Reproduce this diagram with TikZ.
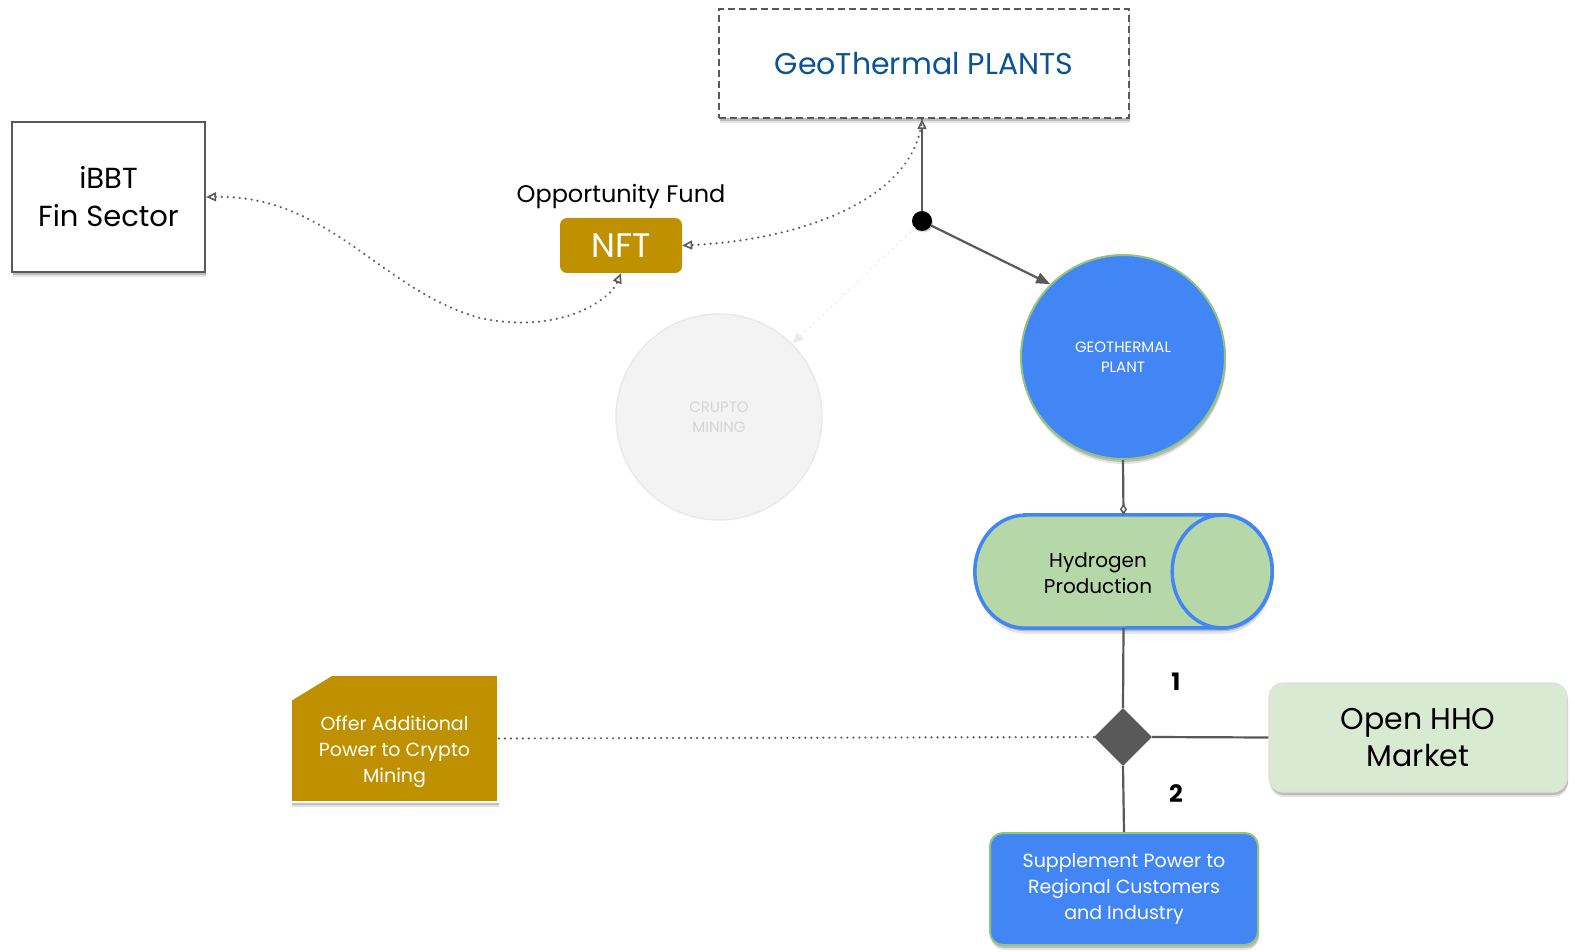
\documentclass[tikz,border=0pt]{standalone}
\usepackage{fontspec}
\setmainfont{Poppins}
\usetikzlibrary{arrows.meta,shapes.geometric,shadows,positioning}
\definecolor{goldc}{HTML}{BF9000}
\definecolor{blueg}{HTML}{4285F4}
\definecolor{greenb}{HTML}{93C47D}
\definecolor{hpfill}{HTML}{B6D7A8}
\definecolor{hhofill}{HTML}{D9EAD3}
\definecolor{titleblue}{HTML}{0B5394}
\definecolor{lgray}{HTML}{595959}
\definecolor{crfill}{HTML}{F3F3F3}
\definecolor{crline}{HTML}{EAEAEA}
\definecolor{crtext}{HTML}{D5D5D5}
\newcommand{\fs}[2]{\fontsize{#1}{#2}\selectfont}
\tikzset{
  shad/.style={drop shadow={shadow xshift=1pt,shadow yshift=-5pt,opacity=0.10,fill=black},
               drop shadow={shadow xshift=1pt,shadow yshift=-3pt,opacity=0.18,fill=black}},
  conn/.style={draw=lgray,line width=2.2pt},
  dotconn/.style={draw=lgray,line width=2.4pt,line cap=round,dash pattern=on 0.01pt off 6pt},
  ohead/.tip={Triangle[open,length=10pt,width=9pt,line width=1.6pt,line cap=butt]},
  txt/.style={align=center,inner sep=0pt}
}
\begin{document}
\begin{tikzpicture}[x=1pt,y=-1pt]
\useasboundingbox (0,0) rectangle (1575,952);

% GeoThermal PLANTS
\node[shad,draw=lgray,dash pattern=on 7pt off 4pt,line width=2.2pt,fill=white,minimum width=410,minimum height=109,inner sep=0pt,
  text=titleblue,font=\fs{30}{36}] (geo) at (924,63.5) {GeoThermal PLANTS};

% iBBT
\node[shad,draw=lgray,line width=2.2pt,fill=white,minimum width=193,minimum height=150,inner sep=0pt,
  align=center,font=\fs{29}{38}] (ibbt) at (108.5,197) {iBBT\\Fin Sector};

% NFT
\node[fill=goldc,rounded corners=7pt,minimum width=122,minimum height=55,inner sep=0pt,
  text=white,font=\fs{34}{40}] (nft) at (621,245.5) {NFT};
\node[txt,font=\fs{24}{28},anchor=south] (ofund) at (621,209) {Opportunity Fund};

% dot
\node[circle,fill=black,minimum size=20,inner sep=0pt,drop shadow={shadow xshift=1pt,shadow yshift=-1.5pt,opacity=0.3}] (dot) at (922,221) {};

% Geothermal plant circle
\node[shad,circle,fill=blueg,draw=greenb,line width=2pt,minimum size=204,inner sep=0pt,
  align=center,text=white,font=\fs{15}{20}] (gp) at (1123,357) {GEOTHERMAL\\PLANT};

% Crupto mining
\node[circle,fill=crfill,draw=crline,line width=1.5pt,minimum size=206,inner sep=0pt,
  align=center,text=crtext,font=\fs{15}{20}] (cm) at (719,417) {CRUPTO\\MINING};

% Hydrogen production cylinder
\node[minimum width=297,minimum height=113,inner sep=0pt] (hp) at (1123.5,571.5) {};
\fill[black,opacity=0.10] ([xshift=51pt,yshift=-6pt]hp.north west) -- ++(197,0)
  arc[start angle=-90,end angle=90,x radius=50,y radius=56.5] -- ++(-197,0)
  arc[start angle=90,end angle=270,x radius=50,y radius=56.5] -- cycle;
\fill[black,opacity=0.18] ([xshift=51pt,yshift=-3.5pt]hp.north west) -- ++(197,0)
  arc[start angle=-90,end angle=90,x radius=50,y radius=56.5] -- ++(-197,0)
  arc[start angle=90,end angle=270,x radius=50,y radius=56.5] -- cycle;
\draw[fill=hpfill,draw=blueg,line width=3.5pt] ([xshift=50pt]hp.north west) -- ([xshift=-50pt]hp.north east)
  arc[start angle=-90,end angle=90,x radius=50,y radius=56.5] -- ([xshift=50pt]hp.south west)
  arc[start angle=90,end angle=270,x radius=50,y radius=56.5] -- cycle;
\draw[fill=hpfill,draw=blueg,line width=3.5pt] ([xshift=-50pt]hp.east) ellipse[x radius=50,y radius=56.5];
\node[txt,font=\fs{20}{26}] (hptext) at (1098,573) {Hydrogen\\Production};

% Diamond
\node[diamond,fill=lgray,minimum width=58,minimum height=58,inner sep=0pt] (dm) at (1123,737) {};
\node[txt,font=\bfseries\fs{24}{28}] (l1) at (1176,682) {1};
\node[txt,font=\bfseries\fs{24}{28}] (l2) at (1176,794) {2};

% Open HHO market
\node[shad,fill=hhofill,draw=white!88!black,line width=1.2pt,rounded corners=14pt,minimum width=298,minimum height=109,inner sep=0pt,
  align=center,font=\fs{30}{37}] (hho) at (1418,737.5) {Open HHO\\Market};

% Supplement
\node[shad,fill=blueg,draw=greenb,line width=2pt,rounded corners=13pt,minimum width=268,minimum height=112,inner sep=0pt,
  align=center,text=white,font=\fs{19}{26}] (sp) at (1124,889) {Supplement Power to\\Regional Customers\\and Industry};

% Offer (snipped corner)
\node[minimum width=207,minimum height=127,inner sep=0pt] (offer) at (394.5,738.5) {};
\fill[black,opacity=0.10] ([shift={(1pt,-30pt)}]offer.north west) -- ([shift={(42pt,-5pt)}]offer.north west)
  -- ([shift={(1pt,-5pt)}]offer.north east) -- ([shift={(1pt,-5pt)}]offer.south east)
  -- ([shift={(1pt,-5pt)}]offer.south west) -- cycle;
\fill[black,opacity=0.18] ([shift={(1pt,-28pt)}]offer.north west) -- ([shift={(42pt,-3pt)}]offer.north west)
  -- ([shift={(1pt,-3pt)}]offer.north east) -- ([shift={(1pt,-3pt)}]offer.south east)
  -- ([shift={(1pt,-3pt)}]offer.south west) -- cycle;
\draw[fill=goldc,draw=white,line width=2pt] ([yshift=-25pt]offer.north west) -- ([xshift=41pt]offer.north west)
  -- (offer.north east) -- (offer.south east) -- (offer.south west) -- cycle;
\node[txt,text=white,font=\fs{19}{26}] (offertext) at (394.5,752) {Offer Additional\\Power to Crypto\\Mining};

% connectors
\coordinate (geob) at (dot |- geo.south);
\draw[dotconn,-ohead] (geob) .. controls (915,200) and (800,240) .. (nft.east);
\draw[dotconn,ohead-ohead]
  (ibbt.east) .. controls (330,195) and (380,290) .. (480,318) .. controls (560,335) and (610,300) .. (nft.south);
\draw[conn,-ohead] (dot) -- (geob);
\draw[conn,-{Triangle[length=14pt,width=11pt]}] (dot) -- (gp.135);
\draw[draw=crline,line width=2.2pt,line cap=round,dash pattern=on 0.01pt off 6pt,-{Triangle[length=11pt,width=9pt,fill=crline]}] (dot) -- (cm.45);
\draw[conn,-{Diamond[open,length=11pt,width=7pt,line width=1.5pt]}] (gp.south) -- (hp.north);
\draw[conn] (hp.south) -- (dm.north);
\draw[conn] (dm.east) -- (hho.west);
\draw[conn] (dm.south) -- (sp.north);
\draw[dotconn] (dm.west) -- (offer.east);
\end{tikzpicture}
\end{document}
